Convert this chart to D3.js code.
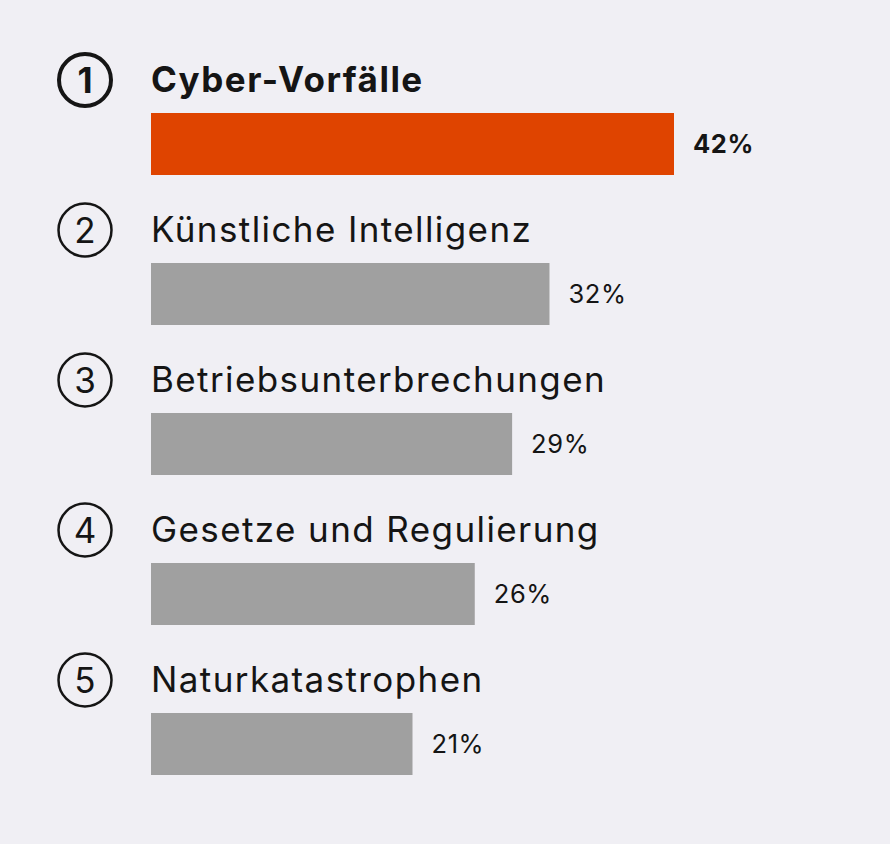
<!DOCTYPE html>
<html>
<head>
<meta charset="utf-8">
<script src="https://cdn.jsdelivr.net/npm/d3@7"></script>
<style>
  html, body { margin: 0; padding: 0; background: #f0eff4; }
  text { font-family: Inter, "Noto Sans", sans-serif; fill: #151515; }
</style>
</head>
<body>
<div id="chart"></div>
<script>
var ranks = [1, 2, 3, 4, 5];
var risks = ["Cyber-Vorfälle", "Künstliche Intelligenz", "Betriebsunterbrechungen",
             "Gesetze und Regulierung", "Naturkatastrophen"];
var shares = [42, 32, 29, 26, 21];

var width = 890, height = 844;

var svg = d3.select("#chart")
    .append("svg")
        .attr("width", width)
        .attr("height", height);

// x scale: percent -> bar length
var x = d3.scaleLinear()
    .domain([0, 42])
    .range([151, 674]);

// y band: one row per risk
var y = d3.scaleBand()
    .domain(risks)
    .range([113, 863])
    .paddingInner(0);

var barH = 62;
var rows = risks.map(function(r, i) { return { rank: ranks[i], name: r, value: shares[i], top: i === 0 }; });

var g = svg.selectAll("g.row")
    .data(rows)
    .enter()
    .append("g")
        .attr("class", "row")
        .attr("transform", function(d) { return "translate(0," + y(d.name) + ")"; });

g.append("rect")
    .attr("x", x(0))
    .attr("y", 0)
    .attr("width", function(d) { return x(d.value) - x(0); })
    .attr("height", barH)
    .attr("fill", function(d) { return d.top ? "#df4400" : "#a0a0a0"; });

g.append("text")
    .attr("x", function(d) { return x(d.value) + 19; })
    .attr("y", barH / 2 + 9)
    .style("font-size", "25.5px")
    .style("letter-spacing", "0.6px")
    .style("font-weight", function(d) { return d.top ? 700 : 400; })
    .text(function(d) { return d.value + "%"; });

g.append("text")
    .attr("x", x(0))
    .attr("y", -21)
    .style("font-size", "35px")
    .style("letter-spacing", function(d) { return d.top ? "1.5px" : "1.4px"; })
    .style("font-weight", function(d) { return d.top ? 700 : 400; })
    .text(function(d) { return d.name; });

// rank circles
g.append("circle")
    .attr("cx", 85)
    .attr("cy", -33)
    .attr("r", function(d) { return d.top ? 26 : 26.5; })
    .attr("fill", "none")
    .attr("stroke", "#151515")
    .attr("stroke-width", function(d) { return d.top ? 4 : 2.5; });

g.append("text")
    .attr("x", 85)
    .attr("y", -33)
    .attr("text-anchor", "middle")
    .attr("dominant-baseline", "central")
    .style("font-size", "35px")
    .style("font-weight", function(d) { return d.top ? 700 : 400; })
    .text(function(d) { return d.rank; });
</script>
</body>
</html>
